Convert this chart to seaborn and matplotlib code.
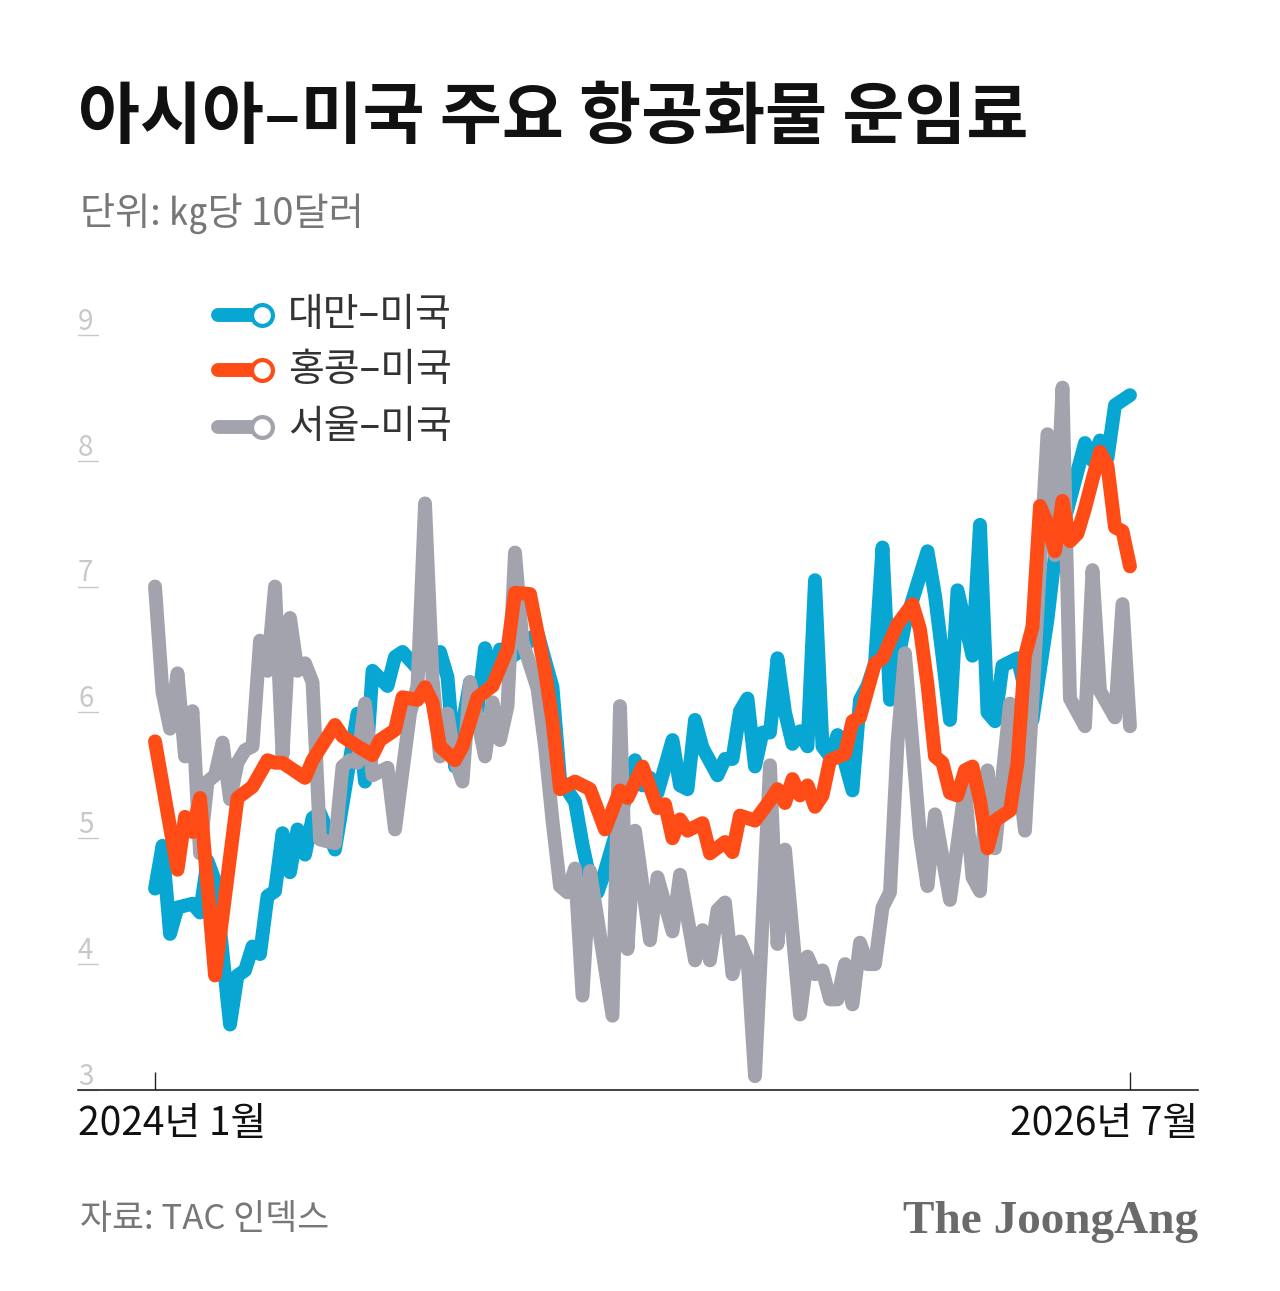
import matplotlib
matplotlib.use('Agg')
import matplotlib.pyplot as plt
import matplotlib.transforms as mtransforms
from matplotlib.lines import Line2D
import seaborn as sns
import pandas as pd

# weekly index from 2024-01 (0) to 2026-07 (130), unit: 10 USD per kg
taiwan_weeks = [0, 1, 2, 3, 5, 6, 7, 8, 10, 11, 12, 13, 14, 15, 16, 17, 18, 19, 20, 21, 22,
                24, 27, 28, 29, 31, 32, 33, 35, 36, 38, 39, 40,
                42, 43, 44, 45, 46, 47, 49, 50, 51, 53, 54, 56, 57, 58, 59, 60,
                62, 64, 65, 66, 67, 69, 70, 71, 72, 73, 75, 76, 77, 78, 79, 80,
                81, 82, 83, 84, 85, 86, 87, 88, 89, 90, 91, 93, 94, 95, 96, 97, 98,
                100, 103, 104, 105, 106, 107, 109, 110, 111, 112, 113, 115, 117, 119, 120,
                122, 124, 125, 126, 127, 128, 130]
taiwan_values = [4.60, 4.94, 4.24, 4.45, 4.48, 4.41, 4.82, 4.66,
                 3.52, 3.91, 3.95, 4.14, 4.08, 4.54, 4.58, 5.04, 4.73, 5.07, 4.87, 5.16, 5.20,
                 4.91, 5.99, 5.45, 6.33, 6.21, 6.44, 6.48, 6.35, 6.38, 6.48, 6.28, 5.57,
                 6.24, 6.02, 6.51, 6.27, 6.50, 6.42, 6.50, 6.58, 6.63, 6.20, 5.47, 5.29, 4.95, 4.67, 4.57, 4.74,
                 5.15, 5.62, 5.42, 5.48, 5.36, 5.78, 5.42, 5.39, 5.94, 5.72, 5.50, 5.63, 5.63, 6.01, 6.11, 5.57,
                 5.84, 5.84, 6.43, 6.00, 5.75, 5.85, 5.73, 7.05, 5.73, 5.65, 5.82, 5.38, 6.10, 6.21, 6.39, 7.31, 6.10,
                 6.70, 7.28, 6.93, 6.45, 5.94, 6.97, 6.45, 7.49, 6.00, 5.93, 6.37, 6.43, 5.94, 6.74, 7.25,
                 7.69, 8.14, 8.00, 8.16, 8.02, 8.44, 8.52]

hongkong_weeks = [0, 3, 4, 5, 6, 8, 11, 13, 15, 16, 17, 20, 21, 24, 25, 27, 29, 30, 32, 33,
                  35, 36, 37, 38, 40, 41, 43, 45, 47, 48, 50, 52, 53, 54, 56, 58, 60, 62, 63, 65,
                  67, 68, 69, 70, 71, 73, 74, 76, 77, 78, 80, 82, 83, 84, 85, 86, 87, 88, 89, 90,
                  92, 93, 94, 96, 97, 99, 101, 102, 103, 104, 105, 106, 107, 108, 109, 110, 111, 112, 113, 114,
                  115, 116, 117, 118, 119, 120, 121, 122, 123, 124, 125, 126, 127, 128, 129, 130]
hongkong_values = [5.77, 4.75, 5.17, 5.05, 5.32, 3.91, 5.32, 5.41, 5.62, 5.60,
                   5.60, 5.48, 5.62, 5.90, 5.81, 5.73, 5.66, 5.78, 5.86, 6.12,
                   6.10, 6.20, 6.08, 5.73, 5.62, 5.73, 6.12, 6.21, 6.50, 6.95,
                   6.94, 6.33, 5.93, 5.39, 5.45, 5.39, 5.07, 5.38, 5.32, 5.57,
                   5.24, 5.27, 5.00, 5.15, 5.06, 5.12, 4.88, 4.97, 4.89, 5.18,
                   5.14, 5.30, 5.39, 5.28, 5.47, 5.34, 5.42, 5.25, 5.34, 5.62,
                   5.67, 5.93, 5.96, 6.39, 6.43, 6.70, 6.86, 6.66, 6.22, 5.65,
                   5.60, 5.36, 5.34, 5.54, 5.57, 5.30, 4.92, 5.14, 5.18, 5.22,
                   5.60, 6.45, 6.68, 7.64, 7.50, 7.28, 7.68, 7.36, 7.42, 7.62,
                   7.85, 8.07, 7.96, 7.47, 7.44, 7.16]

seoul_weeks = [0, 1, 2, 3, 4, 5, 6, 7, 8, 9, 10, 11, 12, 13, 14, 15, 16, 17, 18, 19, 20, 21, 22,
               24, 25, 26, 27, 28, 29, 31, 32, 34, 35, 36, 37, 38, 39, 40, 41, 42,
               44, 45, 46, 47, 48, 49, 51, 52, 53, 54, 55, 56, 57, 58, 61, 62, 63, 64,
               66, 67, 69, 70, 72, 73, 74, 75, 76, 77, 78, 79, 80, 82, 83, 84,
               86, 87, 88, 89, 90, 91, 92, 93, 94, 95, 96, 97, 98, 99, 100,
               102, 103, 104, 106, 108, 109, 110, 111, 112, 114, 116,
               119, 120, 121, 122, 124, 125, 126, 128, 129, 130]
seoul_values = [7.00, 6.16, 5.87, 6.31, 5.65, 6.01, 4.88, 5.45, 5.50, 5.76, 5.31, 5.60, 5.70, 5.73,
                6.57, 6.33, 7.00, 5.66, 6.75, 6.33, 6.39, 6.24, 4.99,
                4.96, 5.57, 5.62, 5.60, 6.07, 5.50, 5.56, 5.07, 5.99, 6.21, 7.66, 6.27, 5.65, 5.99, 5.62, 5.45, 6.24,
                5.65, 6.08, 5.78, 6.05, 7.27, 6.56, 6.19, 5.73, 5.14, 4.62, 4.57, 4.76, 3.75, 4.74, 3.59, 6.05, 4.12, 5.06,
                4.19, 4.69, 4.26, 4.71, 4.03, 4.27, 4.03, 4.43, 4.49, 3.92, 4.18, 4.04, 3.11, 5.58, 4.16, 4.91,
                3.60, 4.06, 3.92, 3.95, 3.72, 3.72, 4.00, 3.68, 4.17, 4.00, 4.00, 4.45, 4.57, 5.76, 6.47,
                5.02, 4.62, 5.19, 4.51, 5.40, 4.69, 4.58, 5.54, 4.92, 6.07, 5.06,
                8.21, 7.25, 8.58, 6.11, 5.89, 7.13, 6.17, 5.96, 6.86, 5.89]

series_names = ['대만–미국', '홍콩–미국', '서울–미국']
series_colors = ['#07a6d3', '#ff4b16', '#a3a3ad']
y_ticks = [3, 4, 5, 6, 7, 8, 9]
x_tick_weeks = [0, 130]
x_tick_labels = ['2024년 1월', '2026년 7월']

df = pd.concat([
    pd.DataFrame({'week': taiwan_weeks, 'value': taiwan_values, 'route': series_names[0]}),
    pd.DataFrame({'week': hongkong_weeks, 'value': hongkong_values, 'route': series_names[1]}),
    pd.DataFrame({'week': seoul_weeks, 'value': seoul_values, 'route': series_names[2]}),
])

sns.set_theme(style='white')
plt.rcParams['font.family'] = ['Noto Sans CJK KR', 'DejaVu Sans']

W, H = 1280, 1291
fig = plt.figure(figsize=(W / 100, H / 100), dpi=100, facecolor='white')


def fx(px):
    return px / W


def fy(px):
    return 1 - px / H


ax = fig.add_axes([fx(78), fy(1090), fx(1198) - fx(78), fy(297) - fy(1090)])

# draw order: blue, gray, orange on top
for name, z in [(series_names[0], 2), (series_names[2], 3), (series_names[1], 4)]:
    color = series_colors[series_names.index(name)]
    sns.lineplot(data=df[df.route == name], x='week', y='value', color=color,
                 lw=10, solid_joinstyle='round', solid_capstyle='round',
                 zorder=z, legend=False, ax=ax)

ax.set_xlim(-10.27, 139.07)
ax.set_ylim(3, 9.3)
ax.set_xlabel('')
ax.set_ylabel('')
for s in ['top', 'right', 'left']:
    ax.spines[s].set_visible(False)
ax.spines['bottom'].set_color('#222222')
ax.spines['bottom'].set_linewidth(1.2)
ax.set_xticks(x_tick_weeks)
ax.set_yticks([])
ax.tick_params(axis='x', bottom=True, direction='in', length=13, width=1,
               color='#222222', labelbottom=False)

blend = mtransforms.blended_transform_factory(ax.transAxes, ax.transData)
for v in y_ticks:
    ax.text(0.0, v + 0.04, str(v), transform=blend, ha='left', va='baseline',
            fontsize=20, color='#c8c8c8')
    ax.plot([0, 0.018], [v, v], transform=blend, color='#c8c8c8', lw=1, clip_on=False)

fig.text(fx(78), fy(1124), x_tick_labels[0], ha='left', va='center', fontsize=28, color='#111111')
fig.text(fx(1198), fy(1124), x_tick_labels[1], ha='right', va='center', fontsize=28, color='#111111')

# title and notes
fig.text(fx(78), fy(118), '아시아–미국 주요 항공화물 운임료', ha='left', va='center',
         fontsize=48.5, fontweight='heavy', color='#111111')
fig.text(fx(80), fy(213), '단위: ㎏당 10달러', ha='left', va='center', fontsize=27.5, color='#777777')
fig.text(fx(80), fy(1220), '자료: TAC 인덱스', ha='left', va='center', fontsize=25, color='#777777')
fig.text(fx(1198), fy(1222), 'The JoongAng', ha='right', va='center', fontsize=34,
         fontweight='bold', family='Liberation Serif', color='#6a6a6a')

# legend
legend_y = [315, 370, 427]
for name, color, ly in zip(series_names, series_colors, legend_y):
    y = fy(ly)
    fig.add_artist(Line2D([fx(218), fx(260)], [y, y], color=color, lw=10,
                          solid_capstyle='round'))
    fig.add_artist(Line2D([fx(262)], [y], marker='o', markersize=15, markerfacecolor='white',
                          markeredgecolor=color, markeredgewidth=3))
    fig.text(fx(288), y, name, ha='left', va='center', fontsize=28, color='#333333')

fig.savefig('out.png', dpi=100, facecolor='white')
